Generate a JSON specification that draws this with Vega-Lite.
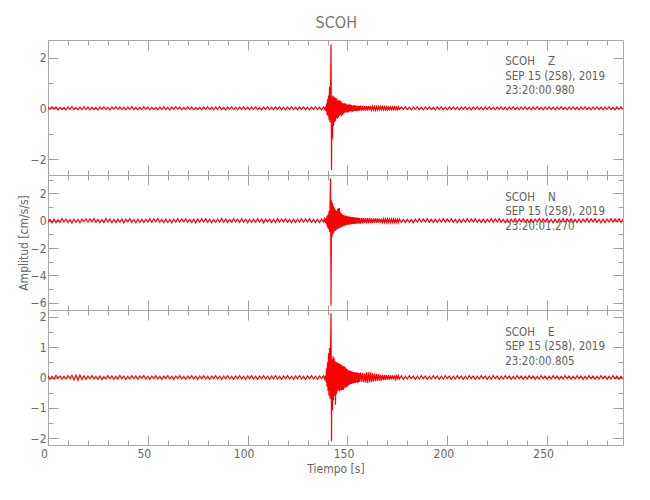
{
"$schema":"https://vega.github.io/schema/vega-lite/v6.json",
"autosize":"none",
"padding":{"left":48,"top":40,"right":27,"bottom":460},
"background":"white",
"title":{"text":"SCOH","font":"DejaVu Sans Condensed, Liberation Sans, sans-serif","fontSize":16,"fontWeight":"normal","color":"#777777","anchor":"middle","offset":8,"dx":16},
"spacing":0,
"bounds":"flush",
"datasets":{"trace":[
{"t":0,"z":0.05,"n":-0.12,"e":0.05},{"t":1,"z":-0.04,"n":0.09,"e":-0.06},{"t":2,"z":0.06,"n":-0.15,"e":0.04},{"t":3,"z":-0.03,"n":0.11,"e":-0.05},{"t":4,"z":0.05,"n":-0.14,"e":0.07},{"t":5,"z":-0.07,"n":0.08,"e":-0.03},{"t":6,"z":0.04,"n":-0.13,"e":0.05},{"t":7,"z":-0.05,"n":0.16,"e":-0.06},{"t":8,"z":0.03,"n":-0.10,"e":0.04},{"t":9,"z":-0.06,"n":0.12,"e":-0.05},
{"t":10,"z":0.05,"n":-0.14,"e":0.06},{"t":11,"z":-0.04,"n":0.09,"e":-0.04},{"t":12,"z":0.07,"n":-0.17,"e":0.07},{"t":13,"z":-0.05,"n":0.11,"e":-0.08},{"t":14,"z":0.03,"n":-0.13,"e":0.08},{"t":15,"z":-0.06,"n":0.10,"e":-0.09},{"t":16,"z":0.04,"n":-0.15,"e":0.08},{"t":17,"z":-0.05,"n":0.12,"e":-0.07},{"t":18,"z":0.06,"n":-0.08,"e":0.06},{"t":19,"z":-0.04,"n":0.14,"e":-0.06},
{"t":20,"z":0.05,"n":-0.11,"e":0.05},{"t":21,"z":-0.06,"n":0.13,"e":-0.04},{"t":22,"z":0.04,"n":-0.09,"e":0.06},{"t":23,"z":-0.05,"n":0.15,"e":-0.05},{"t":24,"z":0.03,"n":-0.12,"e":0.04},{"t":25,"z":-0.06,"n":0.10,"e":-0.06},{"t":26,"z":0.05,"n":-0.14,"e":0.05},{"t":27,"z":-0.04,"n":0.08,"e":-0.07},{"t":28,"z":0.06,"n":-0.13,"e":0.03},{"t":29,"z":-0.05,"n":0.16,"e":-0.05},
{"t":30,"z":0.04,"n":-0.11,"e":0.06},{"t":31,"z":-0.07,"n":0.12,"e":-0.04},{"t":32,"z":0.05,"n":-0.15,"e":0.05},{"t":33,"z":-0.03,"n":0.09,"e":-0.06},{"t":34,"z":0.06,"n":-0.14,"e":0.04},{"t":35,"z":-0.04,"n":0.11,"e":-0.05},{"t":36,"z":0.05,"n":-0.10,"e":0.07},{"t":37,"z":-0.05,"n":0.13,"e":-0.04},{"t":38,"z":0.04,"n":-0.16,"e":0.05},{"t":39,"z":-0.06,"n":0.12,"e":-0.06},
{"t":40,"z":0.05,"n":-0.09,"e":0.04},{"t":41,"z":-0.04,"n":0.14,"e":-0.05},{"t":42,"z":0.07,"n":-0.12,"e":0.06},{"t":43,"z":-0.05,"n":0.10,"e":-0.04},{"t":44,"z":0.03,"n":-0.15,"e":0.05},{"t":45,"z":-0.06,"n":0.11,"e":-0.06},{"t":46,"z":0.04,"n":-0.13,"e":0.05},{"t":47,"z":-0.05,"n":0.09,"e":-0.03},{"t":48,"z":0.06,"n":-0.14,"e":0.06},{"t":49,"z":-0.04,"n":0.12,"e":-0.05},
{"t":50,"z":0.05,"n":-0.10,"e":0.04},{"t":51,"z":-0.06,"n":0.15,"e":-0.06},{"t":52,"z":0.04,"n":-0.11,"e":0.05},{"t":53,"z":-0.05,"n":0.13,"e":-0.04},{"t":54,"z":0.03,"n":-0.09,"e":0.06},{"t":55,"z":-0.06,"n":0.16,"e":-0.05},{"t":56,"z":0.05,"n":-0.12,"e":0.04},{"t":57,"z":-0.04,"n":0.10,"e":-0.06},{"t":58,"z":0.06,"n":-0.14,"e":0.05},{"t":59,"z":-0.05,"n":0.11,"e":-0.04},
{"t":60,"z":0.04,"n":-0.13,"e":0.06},{"t":61,"z":-0.07,"n":0.09,"e":-0.05},{"t":62,"z":0.05,"n":-0.15,"e":0.04},{"t":63,"z":-0.04,"n":0.12,"e":-0.06},{"t":64,"z":0.06,"n":-0.10,"e":0.05},{"t":65,"z":-0.03,"n":0.14,"e":-0.04},{"t":66,"z":0.05,"n":-0.11,"e":0.06},{"t":67,"z":-0.06,"n":0.13,"e":-0.05},{"t":68,"z":0.04,"n":-0.09,"e":0.04},{"t":69,"z":-0.05,"n":0.15,"e":-0.06},
{"t":70,"z":0.06,"n":-0.12,"e":0.05},{"t":71,"z":-0.04,"n":0.10,"e":-0.04},{"t":72,"z":0.05,"n":-0.14,"e":0.06},{"t":73,"z":-0.06,"n":0.11,"e":-0.05},{"t":74,"z":0.03,"n":-0.16,"e":0.04},{"t":75,"z":-0.05,"n":0.12,"e":-0.06},{"t":76,"z":0.04,"n":-0.10,"e":0.05},{"t":77,"z":-0.06,"n":0.13,"e":-0.04},{"t":78,"z":0.05,"n":-0.09,"e":0.06},{"t":79,"z":-0.04,"n":0.14,"e":-0.05},
{"t":80,"z":0.06,"n":-0.12,"e":0.04},{"t":81,"z":-0.05,"n":0.11,"e":-0.06},{"t":82,"z":0.04,"n":-0.15,"e":0.05},{"t":83,"z":-0.06,"n":0.09,"e":-0.04},{"t":84,"z":0.05,"n":-0.13,"e":0.06},{"t":85,"z":-0.04,"n":0.12,"e":-0.05},{"t":86,"z":0.07,"n":-0.10,"e":0.04},{"t":87,"z":-0.05,"n":0.16,"e":-0.06},{"t":88,"z":0.03,"n":-0.11,"e":0.05},{"t":89,"z":-0.06,"n":0.13,"e":-0.04},
{"t":90,"z":0.05,"n":-0.14,"e":0.06},{"t":91,"z":-0.04,"n":0.10,"e":-0.05},{"t":92,"z":0.06,"n":-0.12,"e":0.04},{"t":93,"z":-0.05,"n":0.15,"e":-0.06},{"t":94,"z":0.04,"n":-0.09,"e":0.05},{"t":95,"z":-0.06,"n":0.11,"e":-0.04},{"t":96,"z":0.05,"n":-0.13,"e":0.06},{"t":97,"z":-0.04,"n":0.14,"e":-0.05},{"t":98,"z":0.06,"n":-0.10,"e":0.04},{"t":99,"z":-0.05,"n":0.12,"e":-0.06},
{"t":100,"z":0.04,"n":-0.15,"e":0.05},{"t":101,"z":-0.06,"n":0.09,"e":-0.04},{"t":102,"z":0.05,"n":-0.13,"e":0.06},{"t":103,"z":-0.04,"n":0.11,"e":-0.05},{"t":104,"z":0.06,"n":-0.12,"e":0.04},{"t":105,"z":-0.05,"n":0.14,"e":-0.06},{"t":106,"z":0.03,"n":-0.10,"e":0.05},{"t":107,"z":-0.06,"n":0.13,"e":-0.04},{"t":108,"z":0.05,"n":-0.16,"e":0.06},{"t":109,"z":-0.04,"n":0.11,"e":-0.05},
{"t":110,"z":0.06,"n":-0.09,"e":0.04},{"t":111,"z":-0.05,"n":0.12,"e":-0.06},{"t":112,"z":0.04,"n":-0.14,"e":0.05},{"t":113,"z":-0.06,"n":0.10,"e":-0.04},{"t":114,"z":0.05,"n":-0.13,"e":0.06},{"t":115,"z":-0.04,"n":0.15,"e":-0.05},{"t":116,"z":0.06,"n":-0.11,"e":0.04},{"t":117,"z":-0.05,"n":0.12,"e":-0.06},{"t":118,"z":0.04,"n":-0.09,"e":0.05},{"t":119,"z":-0.06,"n":0.14,"e":-0.04},
{"t":120,"z":0.05,"n":-0.12,"e":0.06},{"t":121,"z":-0.04,"n":0.10,"e":-0.05},{"t":122,"z":0.06,"n":-0.15,"e":0.04},{"t":123,"z":-0.05,"n":0.11,"e":-0.06},{"t":124,"z":0.04,"n":-0.13,"e":0.05},{"t":125,"z":-0.06,"n":0.12,"e":-0.04},{"t":126,"z":0.05,"n":-0.10,"e":0.06},{"t":127,"z":-0.04,"n":0.14,"e":-0.05},{"t":128,"z":0.06,"n":-0.11,"e":0.04},{"t":129,"z":-0.05,"n":0.13,"e":-0.06},
{"t":130,"z":0.04,"n":-0.09,"e":0.05},{"t":131,"z":-0.06,"n":0.15,"e":-0.04},{"t":132,"z":0.05,"n":-0.12,"e":0.06},{"t":133,"z":-0.04,"n":0.10,"e":-0.05},{"t":134,"z":0.06,"n":-0.14,"e":0.04},{"t":135,"z":-0.05,"n":0.11,"e":-0.06},{"t":136,"z":0.04,"n":-0.13,"e":0.05},{"t":137,"z":-0.06,"n":0.12,"e":-0.04},{"t":138,"z":0.05,"n":-0.10,"e":0.06},{"t":138.5,"z":-0.04,"n":0.14,"e":-0.05},
{"t":139,"z":0.06,"n":-0.15,"e":0.06},{"t":139.25,"z":-0.12,"n":0.2,"e":-0.15},{"t":139.5,"z":0.2,"n":-0.3,"e":0.3},{"t":139.75,"z":-0.25,"n":0.35,"e":-0.3},
{"t":140,"z":0.35,"n":-0.5,"e":0.5},{"t":140.25,"z":-0.3,"n":0.45,"e":-0.45},{"t":140.5,"z":0.5,"n":-0.6,"e":0.8},{"t":140.75,"z":-0.45,"n":0.7,"e":-0.6},
{"t":141,"z":0.85,"n":-0.8,"e":0.97},{"t":141.25,"z":-0.55,"n":0.9,"e":-0.7},{"t":141.5,"z":0.6,"n":3.1,"e":0.75},{"t":141.75,"z":2.52,"n":-6.2,"e":2.12},
{"t":142,"z":-2.43,"n":1.5,"e":-2.1},{"t":142.25,"z":0.45,"n":-1.2,"e":0.6},{"t":142.5,"z":-1.2,"n":1.3,"e":-1.08},{"t":142.75,"z":0.5,"n":-1.0,"e":0.7},
{"t":143,"z":-0.7,"n":1.1,"e":-0.75},{"t":143.25,"z":0.45,"n":-0.8,"e":0.65},{"t":143.5,"z":-0.55,"n":0.9,"e":-0.6},{"t":143.75,"z":0.4,"n":-0.75,"e":0.55},
{"t":144,"z":-0.5,"n":0.8,"e":-0.9},{"t":144.25,"z":0.42,"n":-0.7,"e":0.5},{"t":144.5,"z":-0.38,"n":0.7,"e":-0.55},{"t":144.75,"z":0.35,"n":-0.6,"e":0.5},
{"t":145,"z":-0.4,"n":0.85,"e":-0.45},{"t":145.25,"z":0.3,"n":-0.6,"e":0.48},{"t":145.5,"z":-0.35,"n":0.9,"e":-0.42},{"t":145.75,"z":0.32,"n":-0.55,"e":0.45},
{"t":146,"z":-0.28,"n":0.93,"e":-0.45},{"t":146.25,"z":0.3,"n":-0.5,"e":0.44},{"t":146.5,"z":-0.25,"n":0.6,"e":-0.42},{"t":146.75,"z":0.28,"n":-0.5,"e":0.43},
{"t":147,"z":-0.3,"n":0.55,"e":-0.42},{"t":147.25,"z":0.22,"n":-0.45,"e":0.4},{"t":147.5,"z":-0.25,"n":0.45,"e":-0.41},{"t":147.75,"z":0.2,"n":-0.4,"e":0.38},
{"t":148,"z":-0.22,"n":0.42,"e":-0.4},{"t":148.25,"z":0.2,"n":-0.38,"e":0.36},{"t":148.5,"z":-0.18,"n":0.4,"e":-0.34},{"t":148.75,"z":0.2,"n":-0.35,"e":0.35},
{"t":149,"z":-0.17,"n":0.36,"e":-0.33},{"t":149.25,"z":0.18,"n":-0.33,"e":0.3},{"t":149.5,"z":-0.16,"n":0.35,"e":-0.31},{"t":149.75,"z":0.15,"n":-0.3,"e":0.28},
{"t":150,"z":-0.18,"n":0.32,"e":-0.28},{"t":150.25,"z":0.14,"n":-0.3,"e":0.25},{"t":150.5,"z":-0.15,"n":0.3,"e":-0.26},{"t":150.75,"z":0.16,"n":-0.28,"e":0.23},
{"t":151,"z":-0.13,"n":0.3,"e":-0.24},{"t":151.25,"z":0.15,"n":-0.27,"e":0.22},{"t":151.5,"z":-0.12,"n":0.28,"e":-0.21},{"t":151.75,"z":0.14,"n":-0.26,"e":0.22},
{"t":152,"z":-0.13,"n":0.27,"e":-0.21},{"t":152.25,"z":0.12,"n":-0.25,"e":0.19},{"t":152.5,"z":-0.14,"n":0.26,"e":-0.2},{"t":152.75,"z":0.11,"n":-0.24,"e":0.18},
{"t":153,"z":-0.12,"n":0.25,"e":-0.19},{"t":153.25,"z":0.13,"n":-0.23,"e":0.18},{"t":153.5,"z":-0.1,"n":0.24,"e":-0.17},{"t":153.75,"z":0.12,"n":-0.22,"e":0.16},
{"t":154,"z":-0.11,"n":0.23,"e":-0.18},{"t":154.25,"z":0.1,"n":-0.22,"e":0.17},{"t":154.5,"z":-0.12,"n":0.22,"e":-0.15},{"t":154.75,"z":0.1,"n":-0.21,"e":0.16},
{"t":155,"z":-0.11,"n":0.22,"e":-0.17},{"t":155.25,"z":0.09,"n":-0.2,"e":0.15},{"t":155.5,"z":-0.1,"n":0.21,"e":-0.16},{"t":155.75,"z":0.1,"n":-0.2,"e":0.15},
{"t":156,"z":-0.09,"n":0.2,"e":-0.15},
{"t":156.5,"z":0.1,"n":-0.21,"e":0.16},{"t":157,"z":-0.09,"n":0.2,"e":-0.14},{"t":157.5,"z":0.1,"n":-0.19,"e":0.15},{"t":158,"z":-0.09,"n":0.2,"e":-0.15},{"t":158.5,"z":0.08,"n":-0.18,"e":0.14},
{"t":159,"z":-0.09,"n":0.19,"e":-0.16},{"t":159.5,"z":0.08,"n":-0.18,"e":0.17},{"t":160,"z":-0.09,"n":0.2,"e":-0.18},{"t":160.5,"z":0.08,"n":-0.17,"e":0.17},{"t":161,"z":-0.08,"n":0.18,"e":-0.16},
{"t":161.5,"z":0.08,"n":-0.17,"e":0.17},{"t":162,"z":-0.07,"n":0.16,"e":-0.15},{"t":162.5,"z":0.08,"n":-0.17,"e":0.14},{"t":163,"z":-0.07,"n":0.16,"e":-0.13},{"t":163.5,"z":0.07,"n":-0.15,"e":0.12},
{"t":164,"z":-0.08,"n":0.16,"e":-0.11},{"t":164.5,"z":0.07,"n":-0.15,"e":0.12},{"t":165,"z":-0.07,"n":0.16,"e":-0.1},{"t":165.5,"z":0.07,"n":-0.14,"e":0.11},{"t":166,"z":-0.06,"n":0.15,"e":-0.1},
{"t":166.5,"z":0.07,"n":-0.14,"e":0.09},{"t":167,"z":-0.06,"n":0.15,"e":-0.1},{"t":167.5,"z":0.07,"n":-0.13,"e":0.09},{"t":168,"z":-0.06,"n":0.14,"e":-0.08},{"t":168.5,"z":0.06,"n":-0.13,"e":0.09},
{"t":169,"z":-0.07,"n":0.14,"e":-0.08},{"t":169.5,"z":0.06,"n":-0.12,"e":0.08},{"t":170,"z":-0.06,"n":0.14,"e":-0.07},{"t":170.5,"z":0.05,"n":-0.13,"e":0.08},{"t":171,"z":-0.06,"n":0.12,"e":-0.07},
{"t":171.5,"z":0.05,"n":-0.13,"e":0.07},{"t":172,"z":-0.06,"n":0.12,"e":-0.06},{"t":172.5,"z":0.05,"n":-0.14,"e":0.07},{"t":173,"z":-0.05,"n":0.12,"e":-0.06},{"t":173.5,"z":0.06,"n":-0.13,"e":0.07},
{"t":174,"z":-0.05,"n":0.12,"e":-0.06},{"t":174.5,"z":0.05,"n":-0.13,"e":0.06},{"t":175,"z":-0.06,"n":0.11,"e":-0.05},{"t":175.5,"z":0.05,"n":-0.12,"e":0.06},{"t":176,"z":-0.04,"n":0.13,"e":-0.05},
{"t":177,"z":0.05,"n":-0.12,"e":0.05},{"t":178,"z":-0.04,"n":0.1,"e":-0.06},{"t":179,"z":0.06,"n":-0.14,"e":0.04},{"t":180,"z":-0.05,"n":0.11,"e":-0.05},{"t":181,"z":0.04,"n":-0.13,"e":0.06},{"t":182,"z":-0.06,"n":0.09,"e":-0.04},{"t":183,"z":0.05,"n":-0.15,"e":0.05},{"t":184,"z":-0.04,"n":0.12,"e":-0.06},{"t":185,"z":0.06,"n":-0.1,"e":0.04},{"t":186,"z":-0.05,"n":0.14,"e":-0.05},
{"t":187,"z":0.04,"n":-0.11,"e":0.06},{"t":188,"z":-0.06,"n":0.13,"e":-0.04},{"t":189,"z":0.05,"n":-0.09,"e":0.05},{"t":190,"z":-0.04,"n":0.15,"e":-0.06},{"t":191,"z":0.06,"n":-0.12,"e":0.04},{"t":192,"z":-0.05,"n":0.1,"e":-0.05},{"t":193,"z":0.03,"n":-0.14,"e":0.06},{"t":194,"z":-0.06,"n":0.11,"e":-0.04},{"t":195,"z":0.05,"n":-0.13,"e":0.05},{"t":196,"z":-0.04,"n":0.12,"e":-0.06},
{"t":197,"z":0.06,"n":-0.1,"e":0.04},{"t":198,"z":-0.05,"n":0.16,"e":-0.05},{"t":199,"z":0.04,"n":-0.11,"e":0.06},{"t":200,"z":-0.06,"n":0.13,"e":-0.04},{"t":201,"z":0.05,"n":-0.09,"e":0.05},{"t":202,"z":-0.04,"n":0.14,"e":-0.06},{"t":203,"z":0.06,"n":-0.12,"e":0.04},{"t":204,"z":-0.05,"n":0.1,"e":-0.05},{"t":205,"z":0.04,"n":-0.15,"e":0.06},{"t":206,"z":-0.06,"n":0.11,"e":-0.04},
{"t":207,"z":0.05,"n":-0.13,"e":0.05},{"t":208,"z":-0.04,"n":0.12,"e":-0.06},{"t":209,"z":0.06,"n":-0.1,"e":0.04},{"t":210,"z":-0.05,"n":0.14,"e":-0.05},{"t":211,"z":0.04,"n":-0.11,"e":0.06},{"t":212,"z":-0.07,"n":0.13,"e":-0.04},{"t":213,"z":0.05,"n":-0.09,"e":0.05},{"t":214,"z":-0.04,"n":0.15,"e":-0.06},{"t":215,"z":0.06,"n":-0.12,"e":0.04},{"t":216,"z":-0.05,"n":0.1,"e":-0.05},
{"t":217,"z":0.04,"n":-0.14,"e":0.06},{"t":218,"z":-0.06,"n":0.11,"e":-0.04},{"t":219,"z":0.05,"n":-0.13,"e":0.05},{"t":220,"z":-0.04,"n":0.12,"e":-0.06},{"t":221,"z":0.06,"n":-0.1,"e":0.04},{"t":222,"z":-0.05,"n":0.16,"e":-0.05},{"t":223,"z":0.04,"n":-0.11,"e":0.06},{"t":224,"z":-0.06,"n":0.13,"e":-0.04},{"t":225,"z":0.05,"n":-0.09,"e":0.05},{"t":226,"z":-0.04,"n":0.14,"e":-0.06},
{"t":227,"z":0.06,"n":-0.12,"e":0.04},{"t":228,"z":-0.05,"n":0.1,"e":-0.05},{"t":229,"z":0.04,"n":-0.15,"e":0.06},{"t":230,"z":-0.06,"n":0.11,"e":-0.04},{"t":231,"z":0.05,"n":-0.13,"e":0.05},{"t":232,"z":-0.04,"n":0.12,"e":-0.06},{"t":233,"z":0.06,"n":-0.1,"e":0.04},{"t":234,"z":-0.05,"n":0.14,"e":-0.05},{"t":235,"z":0.04,"n":-0.11,"e":0.06},{"t":236,"z":-0.06,"n":0.13,"e":-0.04},
{"t":237,"z":0.05,"n":-0.09,"e":0.05},{"t":238,"z":-0.04,"n":0.15,"e":-0.06},{"t":239,"z":0.06,"n":-0.12,"e":0.04},{"t":240,"z":-0.05,"n":0.1,"e":-0.05},{"t":241,"z":0.04,"n":-0.14,"e":0.06},{"t":242,"z":-0.06,"n":0.11,"e":-0.04},{"t":243,"z":0.05,"n":-0.13,"e":0.05},{"t":244,"z":-0.04,"n":0.12,"e":-0.06},{"t":245,"z":0.06,"n":-0.1,"e":0.04},{"t":246,"z":-0.05,"n":0.16,"e":-0.05},
{"t":247,"z":0.04,"n":-0.11,"e":0.06},{"t":248,"z":-0.06,"n":0.13,"e":-0.04},{"t":249,"z":0.05,"n":-0.09,"e":0.05},{"t":250,"z":-0.04,"n":0.14,"e":-0.06},{"t":251,"z":0.06,"n":-0.12,"e":0.04},{"t":252,"z":-0.05,"n":0.1,"e":-0.05},{"t":253,"z":0.04,"n":-0.15,"e":0.06},{"t":254,"z":-0.06,"n":0.11,"e":-0.04},{"t":255,"z":0.05,"n":-0.13,"e":0.05},{"t":256,"z":-0.04,"n":0.12,"e":-0.06},
{"t":257,"z":0.06,"n":-0.1,"e":0.04},{"t":258,"z":-0.05,"n":0.14,"e":-0.05},{"t":259,"z":0.04,"n":-0.11,"e":0.06},{"t":260,"z":-0.06,"n":0.13,"e":-0.04},{"t":261,"z":0.05,"n":-0.09,"e":0.05},{"t":262,"z":-0.04,"n":0.15,"e":-0.06},{"t":263,"z":0.06,"n":-0.12,"e":0.04},{"t":264,"z":-0.05,"n":0.1,"e":-0.05},{"t":265,"z":0.04,"n":-0.14,"e":0.06},{"t":266,"z":-0.06,"n":0.11,"e":-0.04},
{"t":267,"z":0.05,"n":-0.13,"e":0.05},{"t":268,"z":-0.04,"n":0.12,"e":-0.06},{"t":269,"z":0.06,"n":-0.1,"e":0.04},{"t":270,"z":-0.05,"n":0.16,"e":-0.05},{"t":271,"z":0.04,"n":-0.11,"e":0.06},{"t":272,"z":-0.06,"n":0.13,"e":-0.04},{"t":273,"z":0.05,"n":-0.09,"e":0.05},{"t":274,"z":-0.04,"n":0.14,"e":-0.06},{"t":275,"z":0.06,"n":-0.12,"e":0.04},{"t":276,"z":-0.05,"n":0.1,"e":-0.05},
{"t":277,"z":0.04,"n":-0.15,"e":0.06},{"t":278,"z":-0.06,"n":0.11,"e":-0.04},{"t":279,"z":0.05,"n":-0.13,"e":0.05},{"t":280,"z":-0.04,"n":0.12,"e":-0.06},{"t":281,"z":0.06,"n":-0.1,"e":0.04},{"t":282,"z":-0.05,"n":0.14,"e":-0.05},{"t":283,"z":0.04,"n":-0.11,"e":0.06},{"t":284,"z":-0.06,"n":0.13,"e":-0.04},{"t":285,"z":0.05,"n":-0.09,"e":0.05},{"t":286,"z":-0.04,"n":0.15,"e":-0.06},
{"t":287,"z":0.06,"n":-0.12,"e":0.04},{"t":288,"z":-0.05,"n":0.1,"e":-0.05}
]},
"vconcat":[
{"width":575,"height":135,
 "layer":[
  {"data":{"name":"trace"},"mark":{"type":"line","color":"#ff0000","strokeWidth":1.2,"clip":true},
   "encoding":{
    "x":{"field":"t","type":"quantitative","scale":{"domain":[0,288],"nice":false,"zero":false},"axis":{"orient":"bottom","values":[0,50,100,150,200,250],"tickSize":-10,"labels":false,"title":null}},
    "y":{"field":"z","type":"quantitative","scale":{"domain":[-2.63,2.69],"nice":false,"zero":false},"axis":{"orient":"left","values":[-2,0,2],"tickSize":-10,"labelPadding":12,"title":null}}}},
  {"data":{"values":[{"txt":["SCOH\u00a0\u00a0\u00a0\u00a0Z","SEP 15 (258), 2019","23:20:00.980"]}]},
   "mark":{"type":"text","align":"left","baseline":"top","font":"DejaVu Sans Condensed, Liberation Sans, sans-serif","fontSize":11.5,"lineHeight":14.5,"color":"#606060"},
   "encoding":{"text":{"field":"txt"},
    "x":{"datum":229,"type":"quantitative","scale":{"domain":[0,288],"nice":false,"zero":false},"axis":{"orient":"top","values":[0,50,100,150,200,250],"tickSize":-10,"labels":false,"title":null}},
    "y":{"datum":2.04,"type":"quantitative","scale":{"domain":[-2.63,2.69],"nice":false,"zero":false},"axis":{"orient":"right","values":[-2,0,2],"tickSize":-10,"labels":false,"title":null}}}},
  {"data":{"values":[{"k":1}]},"mark":{"type":"text","text":""},
   "encoding":{
    "x":{"datum":0,"type":"quantitative","scale":{"domain":[0,288],"nice":false,"zero":false},"axis":{"orient":"bottom","values":[0,10,20,30,40,50,60,70,80,90,100,110,120,130,140,150,160,170,180,190,200,210,220,230,240,250,260,270,280],"tickSize":-5,"labels":false,"title":null}},
    "y":{"datum":0,"type":"quantitative","scale":{"domain":[-2.63,2.69],"nice":false,"zero":false},"axis":{"orient":"left","values":[-2,-1,0,1,2],"tickSize":-5,"labels":false,"title":null}}}},
  {"data":{"values":[{"k":1}]},"mark":{"type":"text","text":""},
   "encoding":{
    "x":{"datum":0,"type":"quantitative","scale":{"domain":[0,288],"nice":false,"zero":false},"axis":{"orient":"top","values":[0,10,20,30,40,50,60,70,80,90,100,110,120,130,140,150,160,170,180,190,200,210,220,230,240,250,260,270,280],"tickSize":-5,"labels":false,"title":null}},
    "y":{"datum":0,"type":"quantitative","scale":{"domain":[-2.63,2.69],"nice":false,"zero":false},"axis":{"orient":"right","values":[-2,-1,0,1,2],"tickSize":-5,"labels":false,"title":null}}}}
 ],
 "resolve":{"axis":{"x":"independent","y":"independent"}}},
{"width":575,"height":135,
 "layer":[
  {"data":{"name":"trace"},"mark":{"type":"line","color":"#ff0000","strokeWidth":1.2,"clip":true},
   "encoding":{
    "x":{"field":"t","type":"quantitative","scale":{"domain":[0,288],"nice":false,"zero":false},"axis":{"orient":"bottom","values":[0,50,100,150,200,250],"tickSize":-10,"labels":false,"title":null}},
    "y":{"field":"n","type":"quantitative","scale":{"domain":[-6.53,3.34],"nice":false,"zero":false},"axis":{"orient":"left","values":[-6,-4,-2,0,2],"tickSize":-10,"labelPadding":12,"title":"Amplitud [cm/s/s]","titlePadding":0}}}},
  {"data":{"values":[{"txt":["SCOH\u00a0\u00a0\u00a0\u00a0N","SEP 15 (258), 2019","23:20:01.270"]}]},
   "mark":{"type":"text","align":"left","baseline":"top","font":"DejaVu Sans Condensed, Liberation Sans, sans-serif","fontSize":11.5,"lineHeight":14.5,"color":"#606060"},
   "encoding":{"text":{"field":"txt"},
    "x":{"datum":229,"type":"quantitative","scale":{"domain":[0,288],"nice":false,"zero":false},"axis":{"orient":"top","values":[0,50,100,150,200,250],"tickSize":-10,"labels":false,"title":null}},
    "y":{"datum":2.13,"type":"quantitative","scale":{"domain":[-6.53,3.34],"nice":false,"zero":false},"axis":{"orient":"right","values":[-6,-4,-2,0,2],"tickSize":-10,"labels":false,"title":null}}}},
  {"data":{"values":[{"k":1}]},"mark":{"type":"text","text":""},
   "encoding":{
    "x":{"datum":0,"type":"quantitative","scale":{"domain":[0,288],"nice":false,"zero":false},"axis":{"orient":"bottom","values":[0,10,20,30,40,50,60,70,80,90,100,110,120,130,140,150,160,170,180,190,200,210,220,230,240,250,260,270,280],"tickSize":-5,"labels":false,"title":null}},
    "y":{"datum":0,"type":"quantitative","scale":{"domain":[-6.53,3.34],"nice":false,"zero":false},"axis":{"orient":"left","values":[-6,-5,-4,-3,-2,-1,0,1,2,3],"tickSize":-5,"labels":false,"title":null}}}},
  {"data":{"values":[{"k":1}]},"mark":{"type":"text","text":""},
   "encoding":{
    "x":{"datum":0,"type":"quantitative","scale":{"domain":[0,288],"nice":false,"zero":false},"axis":{"orient":"top","values":[0,10,20,30,40,50,60,70,80,90,100,110,120,130,140,150,160,170,180,190,200,210,220,230,240,250,260,270,280],"tickSize":-5,"labels":false,"title":null}},
    "y":{"datum":0,"type":"quantitative","scale":{"domain":[-6.53,3.34],"nice":false,"zero":false},"axis":{"orient":"right","values":[-6,-5,-4,-3,-2,-1,0,1,2,3],"tickSize":-5,"labels":false,"title":null}}}}
 ],
 "resolve":{"axis":{"x":"independent","y":"independent"}}},
{"width":575,"height":135,
 "layer":[
  {"data":{"name":"trace"},"mark":{"type":"line","color":"#ff0000","strokeWidth":1.2,"clip":true},
   "encoding":{
    "x":{"field":"t","type":"quantitative","scale":{"domain":[0,288],"nice":false,"zero":false},"axis":{"orient":"bottom","values":[0,50,100,150,200,250],"tickSize":-10,"labels":true,"labelPadding":13,"labelFlush":false,"labelOffset":-4,"title":"Tiempo [s]","titlePadding":4}},
    "y":{"field":"e","type":"quantitative","scale":{"domain":[-2.22,2.22],"nice":false,"zero":false},"axis":{"orient":"left","values":[-2,-1,0,1,2],"tickSize":-10,"labelPadding":12,"title":null}}}},
  {"data":{"values":[{"txt":["SCOH\u00a0\u00a0\u00a0\u00a0E","SEP 15 (258), 2019","23:20:00.805"]}]},
   "mark":{"type":"text","align":"left","baseline":"top","font":"DejaVu Sans Condensed, Liberation Sans, sans-serif","fontSize":11.5,"lineHeight":14.5,"color":"#606060"},
   "encoding":{"text":{"field":"txt"},
    "x":{"datum":229,"type":"quantitative","scale":{"domain":[0,288],"nice":false,"zero":false},"axis":{"orient":"top","values":[0,50,100,150,200,250],"tickSize":-10,"labels":false,"title":null}},
    "y":{"datum":1.677,"type":"quantitative","scale":{"domain":[-2.22,2.22],"nice":false,"zero":false},"axis":{"orient":"right","values":[-2,-1,0,1,2],"tickSize":-10,"labels":false,"title":null}}}},
  {"data":{"values":[{"k":1}]},"mark":{"type":"text","text":""},
   "encoding":{
    "x":{"datum":0,"type":"quantitative","scale":{"domain":[0,288],"nice":false,"zero":false},"axis":{"orient":"bottom","values":[0,10,20,30,40,50,60,70,80,90,100,110,120,130,140,150,160,170,180,190,200,210,220,230,240,250,260,270,280],"tickSize":-5,"labels":false,"title":null}},
    "y":{"datum":0,"type":"quantitative","scale":{"domain":[-2.22,2.22],"nice":false,"zero":false},"axis":{"orient":"left","values":[-2,-1.5,-1,-0.5,0,0.5,1,1.5,2],"tickSize":-5,"labels":false,"title":null}}}},
  {"data":{"values":[{"k":1}]},"mark":{"type":"text","text":""},
   "encoding":{
    "x":{"datum":0,"type":"quantitative","scale":{"domain":[0,288],"nice":false,"zero":false},"axis":{"orient":"top","values":[0,10,20,30,40,50,60,70,80,90,100,110,120,130,140,150,160,170,180,190,200,210,220,230,240,250,260,270,280],"tickSize":-5,"labels":false,"title":null}},
    "y":{"datum":0,"type":"quantitative","scale":{"domain":[-2.22,2.22],"nice":false,"zero":false},"axis":{"orient":"right","values":[-2,-1.5,-1,-0.5,0,0.5,1,1.5,2],"tickSize":-5,"labels":false,"title":null}}}}
 ],
 "resolve":{"axis":{"x":"independent","y":"independent"}}}
],
"config":{
 "view":{"stroke":"#a8a8a8","strokeWidth":1},
 "axis":{"domain":false,"grid":false,"tickColor":"#a0a0a0","tickWidth":1,"labelFont":"DejaVu Sans Condensed, Liberation Sans, sans-serif","labelFontSize":12,"labelColor":"#666666","titleFont":"DejaVu Sans Condensed, Liberation Sans, sans-serif","titleFontSize":12,"titleFontWeight":"normal","titleColor":"#666666"}
}
}
